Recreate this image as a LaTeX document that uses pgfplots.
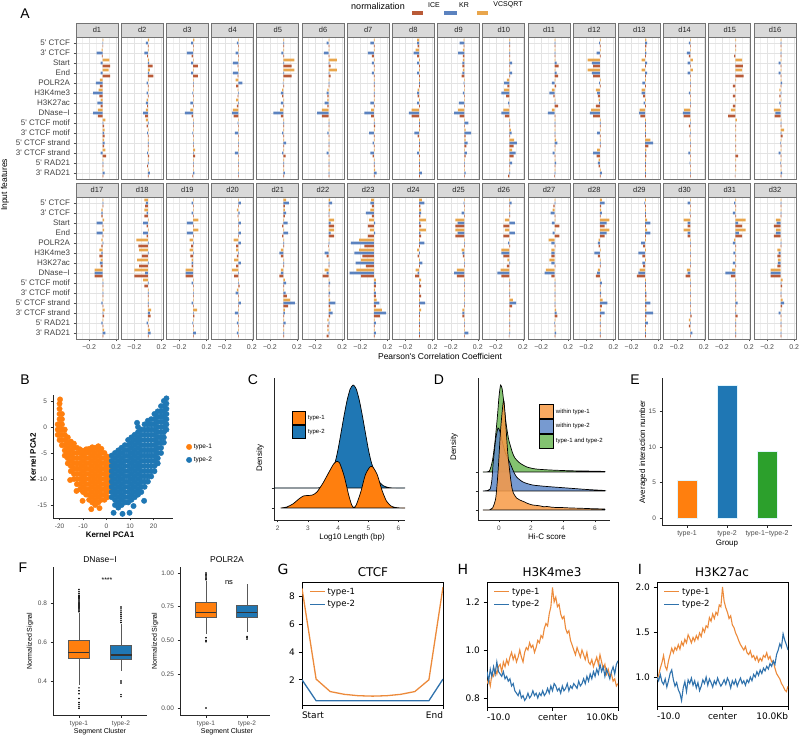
\documentclass[border=0pt]{standalone}
\usepackage{pgfplots}
\pgfplotsset{compat=1.18}
\usepackage{fontspec}
\setmainfont{Liberation Sans}
\newfontfamily\dejavu{DejaVu Sans}
\definecolor{cICE}{HTML}{B95A37}
\definecolor{cKR}{HTML}{5B82BF}
\definecolor{cVC}{HTML}{E9A64C}
\definecolor{tabO}{HTML}{FF7F0E}
\definecolor{tabB}{HTML}{1F77B4}
\definecolor{tabG}{HTML}{2CA02C}
\definecolor{dO}{HTML}{F79A45}
\definecolor{dB}{HTML}{5F88C8}
\definecolor{dG}{HTML}{6DB857}
\definecolor{lO}{HTML}{EC8A3A}
\definecolor{lB}{HTML}{2F72AC}
\newcommand\q{\textquotesingle}
\newcommand\fs[1]{\fontsize{#1}{#1}\selectfont}
\pgfplotsset{
 facetax/.style={scale only axis, width=42pt, height=142pt, xmin=-0.395, xmax=0.227, ymin=0.4, ymax=14.6,
  xtick={-0.2,0.2}, minor xtick={-0.3,-0.1,0,0.1}, ytick={1,...,14}, tick pos=left,
  grid=both, major grid style={gray!22, line width=0.5pt}, minor grid style={gray!12, line width=0.35pt},
  axis line style={black!55, line width=0.9pt},
  tick align=outside, major tick length=2.5pt, minor tick length=0pt,
  tick style={black!70, line width=0.5pt},
  xticklabel style={font=\fs{7}, text=black!70},
  yticklabel style={font=\fs{8}, text=black!75}},
 ylab/.style={yticklabels={3\q{} RAD21, 5\q{} RAD21, 3\q{} CTCF strand, 5\q{} CTCF strand, 3\q{} CTCF motif, 5\q{} CTCF motif, DNase−I, H3K27ac, H3K4me3, POLR2A, End, Start, 3\q{} CTCF, 5\q{} CTCF}},
 noylab/.style={yticklabels={}, ytick style={draw=none}},
 noxlab/.style={xticklabels={}, xtick style={draw=none}},
 xlab/.style={xticklabels={−0.2,0.2}},
 bars/.style={xbar, bar width=2.9pt, bar shift=0pt, draw=none},
 gg/.style={scale only axis, axis x line*=bottom, axis y line*=left,
  axis line style={black!85, line width=0.55pt}, tick align=outside, major tick length=2.5pt,
  tick style={black!85, line width=0.5pt}, ticklabel style={font=\fs{6.5}, text=black!70},
  /pgf/number format/assume math mode=true},
 mpl/.style={scale only axis, tick pos=left, axis line style={black, line width=0.6pt},
  tick align=outside, major tick length=3.5pt, tick style={black, line width=0.6pt},
  ticklabel style={font=\dejavu\fs{9}}, /pgf/number format/assume math mode=true,
  legend style={draw=none, fill=none, font=\dejavu\fs{8.5}, at={(0.05,0.97)}, anchor=north west, inner sep=0pt, row sep=1pt},
  legend cell align=left, legend image code/.code={\draw[##1, line width=1.3pt] (0pt,0pt) -- (15pt,0pt);}},
 whisk/.style={black!65, line width=0.8pt},
 boxs/.style={draw=black!65, line width=0.7pt},
 med/.style={black!80, line width=1.2pt},
 outl/.style={only marks, mark=*, mark size=0.55pt, black},
}
\newcommand\facet[5]{%
 \begin{axis}[facetax, at={(#1pt,#2pt)}, #4]
  \addplot[bars, fill=cICE] table[row sep=\\, x=i, y expr=13.7-\coordindex] {v k i\\ #5};
  \addplot[bars, fill=cKR] table[row sep=\\, x=k, y expr=14-\coordindex] {v k i\\ #5};
  \addplot[bars, fill=cVC] table[row sep=\\, x=v, y expr=14.3-\coordindex] {v k i\\ #5};
 \end{axis}
 \draw[black!55, line width=0.9pt, fill=gray!30] (#1pt,#2pt+142pt) rectangle (#1pt+42pt,#2pt+156pt);
 \node[font=\fs{7.5}, text=black!85] at (#1pt+21pt,#2pt+149pt) {#3};
}
\begin{document}
\begin{tikzpicture}
\useasboundingbox (0pt,0pt) rectangle (800pt,739pt);
% ---------------- Panel A ----------------
\node[font=\fs{14}] at (25pt,725pt) {A};
\node[font=\fs{8.5}, rotate=90] at (5pt,554pt) {Input features};
\node[font=\fs{8.5}] at (440pt,383pt) {Pearson\q{}s Correlation Coefficient};
\node[font=\fs{9}] at (378pt,733pt) {normalization};
\fill[cICE] (412pt,724pt) rectangle (423pt,728pt); \node[font=\fs{7}] at (434pt,734pt) {ICE};
\fill[cKR] (444pt,724pt) rectangle (457pt,728pt); \node[font=\fs{7}] at (464pt,734pt) {KR};
\fill[cVC] (477pt,724pt) rectangle (488pt,728pt); \node[font=\fs{7}] at (508pt,734pt) {VCSQRT};

\facet{76}{560}{d1}{ylab,noxlab}{0.01 0.005 0.005\\ -0.015 -0.09 -0.01\\ 0.1 -0.03 0.11\\ 0.09 -0.03 0.11\\ -0.04 -0.1 -0.04\\ -0.06 -0.14 -0.05\\ -0.03 -0.08 -0.03\\ -0.07 -0.14 -0.07\\ 0.04 0.01 0.02\\ 0.03 0.02 0.03\\ 0.02 0.03 0.02\\ 0.04 -0.03 0.05\\ 0.01 0.01 0.01\\ 0.01 0.03 0.01\\}
\facet{121.2}{560}{d2}{noylab,noxlab}{0.02 -0.03 0.01\\ 0.01 -0.05 -0.01\\ 0.02 0.02 0.07\\ 0.03 0.02 0.08\\ 0.01 -0.02 0.01\\ 0.01 -0.02 0.01\\ -0.02 -0.03 -0.01\\ -0.03 -0.07 -0.04\\ -0.03 0.01 -0.02\\ 0.01 -0.01 0.01\\ 0.01 0.01 0.01\\ 0.01 -0.01 0.02\\ 0.01 0.01 -0.01\\ 0.01 0.03 0.01\\}
\facet{166.4}{560}{d3}{noylab,noxlab}{0.02 -0.03 0.01\\ 0.01 -0.09 -0.02\\ 0.01 -0.03 0.07\\ 0.01 -0.03 0.07\\ 0.01 0.01 0.01\\ 0.01 -0.01 0.01\\ 0.01 -0.04 0.01\\ -0.04 -0.12 -0.02\\ 0.01 0.01 0.01\\ 0.01 -0.01 0.01\\ 0.01 0.01 0.01\\ 0.03 0.01 0.03\\ 0.01 0.01 0.01\\ 0.01 0.02 -0.01\\}
\facet{211.6}{560}{d4}{noylab,noxlab}{0.01 -0.02 0.01\\ 0.01 -0.04 0.01\\ 0.01 -0.08 -0.01\\ 0.01 -0.08 -0.01\\ -0.04 0.06 -0.03\\ -0.01 0.01 -0.01\\ -0.03 0.01 -0.02\\ -0.08 -0.09 -0.07\\ 0.01 -0.01 0.01\\ 0.01 -0.05 0.01\\ 0.01 0.01 0.01\\ 0.01 -0.05 0.01\\ 0.01 0.01 0.01\\ 0.01 0.01 0.01\\}
\facet{256.8}{560}{d5}{noylab,noxlab}{0.01 0.01 0.01\\ 0.01 -0.03 0.01\\ 0.16 0.01 0.12\\ 0.16 0.01 0.12\\ 0.01 -0.01 0.01\\ -0.02 -0.04 -0.02\\ 0.01 -0.04 0.01\\ -0.05 -0.15 -0.04\\ 0.01 0.01 0.01\\ 0.01 -0.02 0.01\\ 0.01 0.04 0.01\\ 0.01 -0.02 0.03\\ 0.01 0.01 0.01\\ 0.01 0.02 0.01\\}
\facet{302}{560}{d6}{noylab,noxlab}{0.01 -0.03 0.01\\ 0.01 -0.07 0.01\\ 0.12 0.01 0.03\\ 0.12 0.01 0.03\\ 0.01 0.01 0.01\\ -0.02 -0.03 -0.02\\ -0.02 -0.06 -0.02\\ -0.1 -0.17 -0.1\\ 0.01 0.01 0.01\\ 0.01 -0.02 0.01\\ 0.01 0.01 0.01\\ 0.01 -0.03 0.01\\ 0.01 0.01 0.01\\ 0.01 0.01 0.01\\}
\facet{347.2}{560}{d7}{noylab,noxlab}{0.01 -0.05 0.01\\ 0.01 -0.09 -0.03\\ 0.01 -0.03 0.01\\ 0.01 -0.03 0.01\\ 0.01 0.01 0.01\\ 0.01 0.01 0.01\\ 0.01 -0.05 0.01\\ -0.04 -0.14 -0.04\\ 0.01 0.01 0.02\\ 0.01 -0.07 0.01\\ 0.01 -0.02 0.01\\ 0.01 -0.05 -0.02\\ 0.01 0.01 0.01\\ 0.02 0.04 0.01\\}
\facet{392.4}{560}{d8}{noylab,noxlab}{-0.03 -0.03 -0.02\\ -0.05 -0.08 -0.03\\ 0.01 -0.03 0.01\\ 0.01 -0.03 0.01\\ 0.01 0.01 0.01\\ -0.02 -0.03 -0.02\\ 0.01 -0.03 0.01\\ -0.11 -0.15 -0.11\\ 0.01 0.01 0.01\\ 0.01 -0.07 -0.02\\ 0.01 0.01 0.01\\ 0.01 -0.03 0.01\\ 0.01 0.01 0.01\\ 0.01 0.04 0.01\\}
\facet{437.6}{560}{d9}{noylab,noxlab}{-0.01 -0.07 -0.01\\ -0.02 -0.09 -0.02\\ -0.02 -0.03 -0.03\\ -0.02 -0.03 -0.04\\ 0.01 -0.01 0.01\\ 0.01 -0.02 0.01\\ 0.01 -0.08 0.01\\ -0.09 -0.15 -0.07\\ 0.01 0.06 0.01\\ 0.02 0.1 0.02\\ 0.02 0.05 0.03\\ 0.01 0.04 0.02\\ 0.01 0.01 0.01\\ 0.01 0.02 0.01\\}
\facet{482.8}{560}{d10}{noylab,noxlab}{0.01 0.01 0.01\\ 0.01 0.01 0.01\\ 0.01 0.04 0.01\\ 0.01 0.04 0.01\\ -0.04 -0.08 -0.03\\ -0.08 -0.12 -0.05\\ -0.01 -0.02 -0.01\\ -0.09 -0.12 -0.07\\ 0.01 0.01 0.01\\ 0.02 0.03 0.01\\ 0.07 0.11 0.06\\ 0.04 0.09 0.06\\ 0.01 0.04 0.01\\ 0.01 0.01 -0.02\\}
\facet{528}{560}{d11}{noylab,noxlab}{0.01 0.01 0.01\\ 0.01 0.01 0.01\\ 0.01 0.03 0.06\\ 0.01 0.03 0.05\\ 0.01 -0.04 0.02\\ -0.04 -0.08 -0.02\\ 0.01 0.01 0.05\\ -0.04 -0.1 0.01\\ 0.01 0.01 0.01\\ 0.01 0.01 0.01\\ 0.02 0.04 0.01\\ 0.01 -0.03 0.01\\ 0.01 0.02 0.01\\ 0.01 0.01 -0.01\\}
\facet{573.2}{560}{d12}{noylab,noxlab}{0.01 -0.01 0.01\\ 0.01 -0.05 0.01\\ -0.18 -0.12 -0.1\\ -0.18 -0.12 -0.1\\ 0.01 -0.01 0.01\\ -0.06 -0.04 -0.03\\ -0.02 -0.01 -0.06\\ -0.13 -0.15 -0.1\\ 0.01 0.01 0.01\\ 0.01 -0.04 0.01\\ 0.01 0.01 0.01\\ -0.04 -0.1 -0.05\\ -0.02 -0.03 -0.02\\ 0.01 0.03 0.01\\}
\facet{618.4}{560}{d13}{noylab,noxlab}{0.02 0.03 0.02\\ 0.01 0.02 0.01\\ -0.05 0.03 0.01\\ -0.05 0.03 0.01\\ 0.01 -0.04 0.01\\ -0.05 -0.05 -0.03\\ 0.01 -0.02 0.01\\ -0.08 -0.09 -0.07\\ 0.01 0.01 0.01\\ 0.01 0.01 0.01\\ 0.08 0.12 0.05\\ 0.02 0.01 0.02\\ 0.01 0.01 0.01\\ 0.01 0.01 0.01\\}
\facet{663.6}{560}{d14}{noylab,noxlab}{0.01 -0.02 0.01\\ 0.01 -0.05 -0.02\\ 0.04 -0.04 0.01\\ 0.04 -0.04 0.01\\ 0.01 0.01 0.01\\ 0.01 -0.02 0.01\\ 0.01 0.01 0.01\\ -0.09 -0.11 -0.1\\ 0.01 0.01 -0.02\\ 0.01 0.01 -0.01\\ 0.01 0.01 0.01\\ 0.01 -0.03 0.01\\ 0.01 -0.01 0.01\\ 0.01 0.01 0.01\\}
\facet{708.8}{560}{d15}{noylab,noxlab}{0.01 0 0.01\\ 0.01 0 -0.02\\ 0.1 0 0.11\\ 0.1 0 0.12\\ 0.01 0 -0.04\\ 0.01 0 -0.04\\ 0.01 0 -0.04\\ -0.07 0 -0.11\\ 0.02 0 0.01\\ 0.01 0 0.01\\ 0.01 0 0.01\\ 0.01 0 0.04\\ 0.01 0 0.01\\ 0.01 0 -0.01\\}
\facet{754}{560}{d16}{noylab,noxlab}{0.01 0.01 0.01\\ 0.01 0.01 0.01\\ 0.01 -0.03 0.01\\ 0.01 -0.03 0.01\\ 0.01 0.02 0.01\\ -0.02 0.01 -0.02\\ 0.01 -0.02 -0.01\\ -0.1 -0.08 -0.09\\ 0.01 0.01 0.01\\ 0.05 0.01 0.03\\ 0.01 -0.01 0.01\\ 0.01 -0.03 0.01\\ 0.01 -0.01 0.01\\ 0.01 0.02 0.01\\}

\facet{76}{400}{d17}{ylab,xlab}{0.01 0.01 0.01\\ -0.02 -0.02 -0.02\\ 0.02 -0.09 0.01\\ 0.02 -0.09 0.01\\ -0.02 0.01 -0.02\\ -0.05 -0.02 -0.05\\ -0.03 -0.04 -0.03\\ -0.12 -0.12 -0.12\\ 0.01 0.01 0.01\\ 0.01 0.01 0.01\\ 0.01 -0.02 0.01\\ 0.03 0.01 0.02\\ 0.01 -0.02 0.01\\ 0.02 0.04 0.01\\}
\facet{121.2}{400}{d18}{noylab,xlab}{-0.05 -0.03 -0.04\\ -0.05 -0.02 -0.05\\ 0.01 -0.07 -0.02\\ 0.01 -0.07 -0.02\\ -0.17 0.01 -0.14\\ -0.13 0.01 -0.09\\ -0.16 0.01 -0.13\\ -0.2 -0.04 -0.2\\ -0.07 0.01 -0.05\\ 0.01 0.01 0.01\\ 0.01 0.01 0.01\\ 0.05 0.03 0.04\\ 0.01 -0.02 0.01\\ 0.03 0.04 0.01\\}
\facet{166.4}{400}{d19}{noylab,xlab}{0.01 -0.02 0.01\\ 0.01 -0.02 0.01\\ 0.08 -0.09 0.01\\ 0.08 -0.09 0.01\\ -0.05 0.01 -0.03\\ -0.05 0.01 -0.04\\ -0.02 -0.02 -0.02\\ -0.11 -0.11 -0.11\\ 0.01 -0.02 0.01\\ 0.01 0.01 0.01\\ 0.01 -0.02 0.01\\ 0.06 0.01 0.02\\ 0.01 -0.01 0.01\\ 0.01 0.04 0.01\\}
\facet{211.6}{400}{d20}{noylab,xlab}{0.01 0.04 0.01\\ -0.02 0.02 -0.01\\ 0.01 0.04 0.01\\ 0.01 0.04 0.01\\ -0.07 0.04 -0.03\\ -0.03 0.01 -0.02\\ -0.06 0.04 -0.03\\ -0.09 0.01 -0.06\\ 0.01 0.01 0.02\\ -0.02 -0.04 0.01\\ 0.01 0.04 0.01\\ 0.01 -0.05 0.01\\ 0.01 -0.02 0.01\\ 0.01 -0.02 0.01\\}
\facet{256.8}{400}{d21}{noylab,xlab}{0.04 0.08 0.02\\ 0.02 0.04 0.02\\ 0.01 0.06 -0.02\\ 0.01 0.07 -0.02\\ 0.01 0.01 0.01\\ -0.04 -0.06 -0.04\\ 0.01 0.01 0.01\\ -0.04 -0.04 -0.06\\ 0.02 0.04 0.01\\ 0.01 0.03 0.05\\ 0.1 0.17 0.07\\ 0.02 0.02 0.01\\ 0.01 0.03 0.01\\ 0.01 0.01 0.01\\}
\facet{302}{400}{d22}{noylab,xlab}{0.02 0.05 0.01\\ 0.02 0.01 0.01\\ 0.08 0.03 0.08\\ 0.08 0.03 0.08\\ 0.01 0.01 -0.01\\ 0.01 -0.06 -0.03\\ 0.01 0.01 0.01\\ -0.06 -0.03 -0.09\\ 0.01 0.02 0.01\\ 0.01 0.02 0.01\\ 0.02 0.1 0.02\\ 0.03 0.06 0.02\\ -0.02 0.01 -0.02\\ -0.02 0.01 -0.03\\}
\facet{347.2}{400}{d23}{noylab,xlab}{-0.04 -0.05 -0.03\\ -0.05 -0.12 -0.03\\ -0.07 0.02 -0.09\\ -0.06 0.02 -0.09\\ -0.22 -0.34 -0.14\\ -0.22 -0.29 -0.17\\ -0.19 -0.27 -0.12\\ -0.26 -0.36 -0.19\\ 0.03 0.03 0.03\\ 0.02 0.03 0.03\\ 0.04 0.08 0.03\\ 0.12 0.18 0.09\\ 0.01 0.03 0.01\\ 0.01 0.03 0.01\\}
\facet{392.4}{400}{d24}{noylab,xlab}{0.04 0.08 0.02\\ 0.03 0.03 0.02\\ 0.1 0.02 0.03\\ 0.1 0.02 0.03\\ 0.01 0.08 0.01\\ -0.03 0.01 -0.02\\ 0.01 0.05 0.01\\ -0.05 -0.02 -0.06\\ 0.03 0.01 0.03\\ 0.01 0.01 0.03\\ 0.01 0.09 0.01\\ 0.03 0.01 0.01\\ 0.01 0.01 0.01\\ 0.01 0.01 0.01\\}
\facet{437.6}{400}{d25}{noylab,xlab}{0.01 -0.01 0.01\\ 0.01 -0.04 0.01\\ -0.13 -0.1 -0.13\\ -0.13 -0.1 -0.13\\ 0.01 0.01 0.01\\ -0.04 -0.03 -0.02\\ 0.01 0.01 0.01\\ -0.11 -0.15 -0.11\\ 0.01 0.01 0.01\\ 0.01 0.01 0.01\\ 0.01 0.01 0.01\\ -0.03 -0.03 -0.03\\ 0.01 0.01 0.01\\ 0.01 0.06 0.01\\}
\facet{482.8}{400}{d26}{noylab,xlab}{0.01 0.03 0.01\\ 0.01 0.01 0.01\\ -0.07 0.08 -0.09\\ -0.07 0.08 -0.09\\ 0.01 -0.02 0.01\\ -0.12 -0.12 -0.09\\ -0.03 0.01 -0.04\\ -0.13 -0.18 -0.12\\ 0.01 0.01 0.01\\ 0.01 0.01 0.01\\ 0.05 0.1 0.04\\ 0.01 0.01 0.01\\ 0.01 0.01 0.01\\ 0.01 0.01 -0.01\\}
\facet{528}{400}{d27}{noylab,xlab}{0.01 0.01 -0.02\\ -0.03 -0.06 0.01\\ 0.01 -0.04 0.07\\ 0.01 -0.03 0.07\\ -0.09 -0.05 0.01\\ -0.05 -0.05 -0.05\\ -0.08 -0.05 0.01\\ -0.13 -0.15 -0.05\\ 0.01 0.01 0.01\\ 0.01 0.01 0.01\\ 0.01 0.01 0.01\\ 0.02 0.03 0.04\\ 0.01 -0.01 0.01\\ 0.01 0.02 0.01\\}
\facet{573.2}{400}{d28}{noylab,xlab}{0.03 0.07 0.02\\ 0.02 0.03 0.01\\ 0.14 0.1 0.07\\ 0.14 0.1 0.07\\ -0.02 -0.03 -0.02\\ 0.01 -0.08 -0.03\\ 0.01 0.01 0.01\\ -0.03 -0.04 -0.06\\ 0.01 0.03 0.01\\ 0.01 0.02 0.01\\ 0.04 0.11 0.03\\ 0.02 0.07 0.02\\ 0.01 0.01 0.01\\ 0.01 0.01 0.01\\}
\facet{618.4}{400}{d29}{noylab,xlab}{0.01 -0.01 0.01\\ 0.01 0.01 0.01\\ 0.03 0.08 0.01\\ 0.03 0.08 0.01\\ 0.01 -0.06 -0.03\\ 0.01 -0.1 -0.04\\ 0.01 -0.04 -0.03\\ -0.08 -0.1 -0.12\\ 0.01 0.01 0.01\\ 0.01 0.02 0.02\\ 0.02 0.08 0.02\\ 0.02 0.12 0.02\\ 0.01 0.04 0.01\\ 0.01 0.01 0.01\\}
\facet{663.6}{400}{d30}{noylab,xlab}{0.01 -0.04 0.01\\ 0.01 -0.01 0.01\\ -0.1 -0.04 -0.04\\ -0.1 -0.04 -0.04\\ 0.01 0.01 0.01\\ 0.01 0.01 0.01\\ 0.01 0.01 0.01\\ -0.05 -0.04 -0.07\\ 0.01 0.01 0.01\\ 0.01 0.01 0.01\\ 0.01 0.01 0.01\\ 0.01 0.01 0.02\\ -0.02 0.01 -0.02\\ 0.01 0.03 0.01\\}
\facet{708.8}{400}{d31}{noylab,xlab}{0.01 -0.02 0.01\\ 0.01 -0.04 0.01\\ 0.15 0.04 0.1\\ 0.15 0.05 0.1\\ -0.02 -0.04 0.01\\ 0.01 -0.03 0.01\\ 0.01 -0.04 0.01\\ -0.05 -0.15 -0.07\\ 0.01 0.01 0.01\\ 0.01 0.01 0.01\\ 0.01 0.03 0.01\\ 0.01 0.01 0.03\\ 0.01 0.01 0.01\\ 0.01 0.01 0.01\\}
\facet{754}{400}{d32}{noylab,xlab}{0.01 0.01 0.01\\ 0.01 0.01 0.01\\ -0.07 -0.06 -0.1\\ -0.07 -0.07 -0.1\\ 0.01 0.01 0.01\\ -0.05 -0.03 -0.05\\ -0.04 -0.04 -0.05\\ -0.15 -0.15 -0.15\\ 0.03 0.01 0.02\\ 0.01 0.01 0.01\\ 0.03 0.05 0.02\\ 0.01 -0.03 0.01\\ 0.01 0.01 0.01\\ 0.01 0.01 0.01\\}

% ---------------- Panel B ----------------
\node[font=\fs{14}] at (25pt,359pt) {B};
\begin{axis}[gg, at={(53pt,221pt)}, width=120pt, height=123pt, xmin=-22.8, xmax=28.3, ymin=-17.5, ymax=6.15,
 xtick={-20,-10,0,10,20}, ytick={-15,-10,-5,0,5},
 legend style={at={(1.11,0.62)}, anchor=north west, draw=none, fill=none, font=\fs{6.5}, row sep=3pt, inner sep=0pt},
 legend cell align=left]
\addplot[only marks, mark=*, mark size=2.7pt, tabO, mark options={draw=none, fill=tabO}] coordinates {
(-20.8,-1.5)(-20.8,-0.5)(-20.8,0.5)
(-20,-2.5)(-20,-1.5)(-20,-0.5)(-20,0.5)(-20,1.5)(-20,2.5)(-20,3.5)(-20,4.5)(-19.8,5.3)
(-19,-3.5)(-19,-2.5)(-19,-1.5)(-19,-0.5)(-19,0.5)(-19,1.5)(-19,2.5)
(-17.8,-5.5)(-17.8,-4.5)(-17.8,-3.5)(-17.8,-2.5)(-17.8,-1.5)(-17.8,-0.5)
(-16.5,-7)(-16.5,-6)(-16.5,-5)(-16.5,-4)(-16.5,-3)(-16.5,-2)
(-15.2,-8.5)(-15.2,-7.5)(-15.2,-6.5)(-15.2,-5.5)(-15.2,-4.5)(-15.2,-3.5)(-15.2,-2.8)
(-13.9,-10)(-13.9,-9)(-13.9,-8)(-13.9,-7)(-13.9,-6)(-13.9,-5)(-13.9,-4)(-13.9,-3.2)
(-12.6,-11)(-12.6,-10)(-12.6,-9)(-12.6,-8)(-12.6,-7)(-12.6,-6)(-12.6,-5)(-12.6,-4)
(-11.3,-12)(-11.3,-11)(-11.3,-10)(-11.3,-9)(-11.3,-8)(-11.3,-7)(-11.3,-6)(-11.3,-5)(-11.3,-4.3)
(-10,-12.5)(-10,-11.5)(-10,-10.5)(-10,-9.5)(-10,-8.5)(-10,-7.5)(-10,-6.5)(-10,-5.5)(-10,-4.6)
(-8.7,-13)(-8.7,-12)(-8.7,-11)(-8.7,-10)(-8.7,-9)(-8.7,-8)(-8.7,-7)(-8.7,-6)(-8.7,-5)(-8.7,-4.3)
(-7.4,-14)(-7.4,-13)(-7.4,-12)(-7.4,-11)(-7.4,-10)(-7.4,-9)(-7.4,-8)(-7.4,-7)(-7.4,-6)(-7.4,-5)(-7.4,-4.2)
(-6.1,-14.5)(-6.1,-13.5)(-6.1,-12.5)(-6.1,-11.5)(-6.1,-10.5)(-6.1,-9.5)(-6.1,-8.5)(-6.1,-7.5)(-6.1,-6.5)(-6.1,-5.5)(-6.1,-4.5)(-6.1,-3.9)
(-4.8,-15)(-4.8,-14)(-4.8,-13)(-4.8,-12)(-4.8,-11)(-4.8,-10)(-4.8,-9)(-4.8,-8)(-4.8,-7)(-4.8,-6)(-4.8,-5)(-4.8,-4)
(-3.5,-14.5)(-3.5,-13.5)(-3.5,-12.5)(-3.5,-11.5)(-3.5,-10.5)(-3.5,-9.5)(-3.5,-8.5)(-3.5,-7.5)(-3.5,-6.5)(-3.5,-5.5)(-3.5,-4.5)(-3.5,-3.7)
(-2.2,-14)(-2.2,-13)(-2.2,-12)(-2.2,-11)(-2.2,-10)(-2.2,-9)(-2.2,-8)(-2.2,-7)(-2.2,-6)(-2.2,-5)(-2.2,-4.2)
(-0.9,-14)(-0.9,-13)(-0.9,-12)(-0.9,-11)(-0.9,-10)(-0.9,-9)(-0.9,-8)(-0.9,-7)(-0.9,-6)(-0.9,-5)
(0.4,-13.5)(0.4,-12.5)(0.4,-11.5)(0.4,-10.5)(0.4,-9.5)(0.4,-8.5)(0.4,-7.5)(0.4,-6.5)(0.4,-5.7)
(1.5,-12)(1.5,-11)(1.5,-10)(1.5,-9)(1.5,-8)(1.5,-7)
(-6.5,-15.8)(-10.2,-14.2)(-12.8,-12.3)(-3,-15.6)(-15.5,-10.2)};
\addlegendentry{type-1}
\addplot[only marks, mark=*, mark size=2.7pt, tabB, mark options={draw=none, fill=tabB}] coordinates {
(2.2,-13.5)(2.2,-12.5)(2.2,-11.5)(2.2,-10.5)(2.2,-9.5)(2.2,-8.5)(2.2,-7.5)(2.2,-6.5)(2.2,-5.5)
(3.6,-15)(3.6,-14)(3.6,-13)(3.6,-12)(3.6,-11)(3.6,-10)(3.6,-9)(3.6,-8)(3.6,-7)(3.6,-6)(3.6,-5)
(5,-15.5)(5,-14.5)(5,-13.5)(5,-12.5)(5,-11.5)(5,-10.5)(5,-9.5)(5,-8.5)(5,-7.5)(5,-6.5)(5,-5.5)(5,-4.5)
(6.4,-15)(6.4,-14)(6.4,-13)(6.4,-12)(6.4,-11)(6.4,-10)(6.4,-9)(6.4,-8)(6.4,-7)(6.4,-6)(6.4,-5)(6.4,-4)
(7.8,-14.5)(7.8,-13.5)(7.8,-12.5)(7.8,-11.5)(7.8,-10.5)(7.8,-9.5)(7.8,-8.5)(7.8,-7.5)(7.8,-6.5)(7.8,-5.5)(7.8,-4.5)(7.8,-3.5)
(9.2,-14.5)(9.2,-13.5)(9.2,-12.5)(9.2,-11.5)(9.2,-10.5)(9.2,-9.5)(9.2,-8.5)(9.2,-7.5)(9.2,-6.5)(9.2,-5.5)(9.2,-4.5)(9.2,-3.5)(9.2,-2.5)
(10.6,-14)(10.6,-13)(10.6,-12)(10.6,-11)(10.6,-10)(10.6,-9)(10.6,-8)(10.6,-7)(10.6,-6)(10.6,-5)(10.6,-4)(10.6,-3)(10.6,-2)
(12,-13.5)(12,-12.5)(12,-11.5)(12,-10.5)(12,-9.5)(12,-8.5)(12,-7.5)(12,-6.5)(12,-5.5)(12,-4.5)(12,-3.5)(12,-2.5)(12,-1.5)
(13.4,-13)(13.4,-12)(13.4,-11)(13.4,-10)(13.4,-9)(13.4,-8)(13.4,-7)(13.4,-6)(13.4,-5)(13.4,-4)(13.4,-3)(13.4,-2)(13.4,-1)(13.4,0)
(14.8,-12.5)(14.8,-11.5)(14.8,-10.5)(14.8,-9.5)(14.8,-8.5)(14.8,-7.5)(14.8,-6.5)(14.8,-5.5)(14.8,-4.5)(14.8,-3.5)(14.8,-2.5)(14.8,-1.5)(14.8,-0.5)
(16.2,-11.5)(16.2,-10.5)(16.2,-9.5)(16.2,-8.5)(16.2,-7.5)(16.2,-6.5)(16.2,-5.5)(16.2,-4.5)(16.2,-3.5)(16.2,-2.5)(16.2,-1.5)(16.2,-0.5)(16.2,0.5)
(17.6,-10.5)(17.6,-9.5)(17.6,-8.5)(17.6,-7.5)(17.6,-6.5)(17.6,-5.5)(17.6,-4.5)(17.6,-3.5)(17.6,-2.5)(17.6,-1.5)(17.6,-0.5)(17.6,0.5)(17.6,1.2)
(19,-9.5)(19,-8.5)(19,-7.5)(19,-6.5)(19,-5.5)(19,-4.5)(19,-3.5)(19,-2.5)(19,-1.5)(19,-0.5)(19,0.5)(19,1.5)
(20.4,-8.5)(20.4,-7.5)(20.4,-6.5)(20.4,-5.5)(20.4,-4.5)(20.4,-3.5)(20.4,-2.5)(20.4,-1.5)(20.4,-0.5)(20.4,0.5)(20.4,1.5)(20.4,2.5)
(21.8,-7)(21.8,-6)(21.8,-5)(21.8,-4)(21.8,-3)(21.8,-2)(21.8,-1)(21.8,0)(21.8,1)(21.8,2)(21.8,3)
(23.2,-5)(23.2,-4)(23.2,-3)(23.2,-2)(23.2,-1)(23.2,0)(23.2,1)(23.2,2)(23.2,3)(23.2,4)
(24.4,-3)(24.4,-2)(24.4,-1)(24.4,0)(24.4,1)(24.4,2)(24.4,3)(24.4,4)(24.4,5)
(25.5,-0.5)(25.5,0.5)(25.5,1.5)(25.5,2.5)(25.5,3.5)(25.5,4.5)(25.5,5.5)
(3,-16.5)(6.8,-16.7)(9.8,-16.5)(11.5,-15.2)(16,-14.2)(13,0.8)};
\addlegendentry{type-2}
\end{axis}
\node[font=\bfseries\fs{8}] at (110pt,204pt) {Kernel PCA1};
\node[font=\bfseries\fs{8}, rotate=90] at (33pt,282pt) {Kernel PCA2};

% ---------------- Panel C ----------------
\node[font=\fs{14}] at (253pt,359pt) {C};
\begin{axis}[gg, at={(274pt,219pt)}, width=131pt, height=142pt, xmin=1.877, xmax=6.215, ymin=0, ymax=142,
 xtick={2,3,4,5,6}, ytick={12,32}, yticklabels={}, reverse legend,
 legend style={at={(0.137,0.768)}, anchor=north west, draw=none, fill=none, font=\fs{6}, row sep=0pt, inner sep=0pt},
 legend cell align=left, legend image code/.code={\draw[#1, line width=0.8pt] (0pt,-6.5pt) rectangle (13pt,6.5pt);}]
\addplot[fill=tabB, draw=black, line width=0.7pt, smooth, tension=0.4] coordinates {(1.877,32)(3.3,32)(3.5,34.2)(3.7,40.7)(3.9,57.7)(4.0,71)(4.1,87.7)(4.2,104.8)(4.3,120)(4.4,131)(4.5,135)(4.6,131)(4.7,120)(4.8,104.8)(4.9,87.7)(5.0,71)(5.1,57.7)(5.3,40.7)(5.5,34.2)(5.7,32.3)(5.9,32)(6.215,32)} -- cycle;
\addlegendentry{type-2}
\addplot[fill=tabO, draw=black, line width=0.7pt, smooth, tension=0.4] coordinates {(2.1,12)(2.3,13)(2.5,16)(2.7,21)(2.85,24)(3.0,24.5)(3.15,25)(3.3,28)(3.5,37)(3.7,48)(3.85,56)(3.95,58.5)(4.05,57)(4.2,44)(4.35,25)(4.45,15)(4.52,12.5)(4.6,15)(4.75,28)(4.9,45)(5.05,53)(5.15,53)(5.3,45)(5.45,30)(5.6,19)(5.75,14)(5.9,12.5)(6.1,12)(6.215,12)} -- cycle;
\addlegendentry{type-1}
\end{axis}
\node[font=\fs{8}, rotate=90] at (260pt,281pt) {Density};
\node[font=\fs{8}] at (352pt,202pt) {Log10 Length (bp)};

% ---------------- Panel D ----------------
\node[font=\fs{14}] at (439pt,359pt) {D};
\begin{axis}[gg, at={(478pt,219pt)}, width=132pt, height=142pt, xmin=-1.31, xmax=6.94, ymin=0, ymax=142,
 xtick={0,2,4,6}, ytick={10,29,48}, yticklabels={}, reverse legend,
 legend style={at={(0.462,0.817)}, anchor=north west, draw=none, fill=none, font=\fs{6}, row sep=0pt, inner sep=0pt},
 legend cell align=left, legend image code/.code={\draw[#1, line width=0.8pt] (0pt,-7pt) rectangle (14pt,7pt);}]
\addplot[fill=dG, fill opacity=0.85, draw=black, line width=0.7pt, smooth, tension=0.4] coordinates {(-1.0,48)(-0.6,49)(-0.4,60)(-0.25,78)(-0.1,103)(0.0,123)(0.1,135)(0.2,131)(0.3,118)(0.45,96)(0.6,81)(0.7,75)(0.85,67)(1.0,62)(1.3,57)(1.75,53)(2.3,51)(3.2,50)(4.5,49.2)(6.0,48.8)(6.6,48.5)(6.6,48)} -- cycle;
\addlegendentry{type-1 and type-2}
\addplot[fill=dB, fill opacity=0.85, draw=black, line width=0.7pt, smooth, tension=0.4] coordinates {(-1.0,29)(-0.7,29.5)(-0.55,31)(-0.45,39)(-0.35,59)(-0.2,81)(-0.06,92)(0.05,89)(0.2,79)(0.4,67)(0.69,57)(0.9,49)(1.1,43)(1.5,38)(2.1,35)(3.0,33.5)(4.25,32)(5.5,30.5)(6.6,29.5)(6.6,29)} -- cycle;
\addlegendentry{within type-2}
\addplot[fill=dO, fill opacity=0.85, draw=black, line width=0.7pt, smooth, tension=0.4] coordinates {(-1.0,10)(-0.6,10)(-0.4,12)(-0.2,22)(-0.05,50)(0.1,90)(0.25,116)(0.32,118)(0.45,90)(0.55,67)(0.7,45)(0.8,33)(0.9,27)(1.1,22)(1.3,20)(1.6,18)(1.8,16.5)(2.1,15)(2.4,14.5)(2.6,14)(2.8,13.2)(3.0,13.5)(3.3,12.8)(3.6,12.5)(4.0,12.4)(4.5,12)(5.0,11.8)(5.5,11.5)(6.0,11.2)(6.6,11)(6.6,10)} -- cycle;
\addlegendentry{within type-1}
\end{axis}
\node[font=\fs{8}, rotate=90] at (454pt,292pt) {Density};
\node[font=\fs{8}] at (547pt,202pt) {Hi-C score};

% ---------------- Panel E ----------------
\node[font=\fs{14}] at (635pt,359pt) {E};
\begin{axis}[gg, at={(662pt,214pt)}, width=130pt, height=147pt, xmin=-0.625, xmax=2.625, ymin=-0.99, ymax=19.7,
 xtick={0,1,2}, xticklabels={type-1,type-2,type-1−type-2}, ytick={0,5,10,15}, xticklabel style={font=\fs{7}}]
\addplot[ybar, bar width=20pt, bar shift=0pt, fill=tabO, draw=cyan!12, line width=0.6pt] coordinates {(0,5.35)};
\addplot[ybar, bar width=20pt, bar shift=0pt, fill=tabB, draw=cyan!12, line width=0.6pt] coordinates {(1,18.7)};
\addplot[ybar, bar width=20pt, bar shift=0pt, fill=tabG, draw=cyan!12, line width=0.6pt] coordinates {(2,9.4)};
\end{axis}
\node[font=\fs{8}, rotate=90] at (643pt,287pt) {Averaged interaction number};
\node[font=\fs{8}] at (727pt,195pt) {Group};

% ---------------- Panel F ----------------
\node[font=\fs{14}] at (23pt,171pt) {F};
\begin{axis}[gg, at={(53pt,24pt)}, width=94pt, height=148pt, xmin=0.381, xmax=2.619, ymin=0.2256, ymax=0.985,
 xtick={1,2}, xticklabels={type-1,type-2}, ytick={0.4,0.6,0.8}]
% type-1
\addplot[whisk] coordinates {(1,0.61)(1,0.75)};
\addplot[whisk] coordinates {(1,0.517)(1,0.38)};
\addplot[boxs, fill=tabO] coordinates {(0.75,0.517)(1.25,0.517)(1.25,0.61)(0.75,0.61)} -- cycle;
\addplot[med] coordinates {(0.75,0.548)(1.25,0.548)};
\addplot[outl] coordinates {(1,0.755)(1,0.76)(1,0.765)(1,0.77)(1,0.775)(1,0.78)(1,0.785)(1,0.79)(1,0.795)(1,0.8)(1,0.805)(1,0.81)(1,0.815)(1,0.82)(1,0.825)(1,0.83)(1,0.835)(1,0.84)(1,0.85)(1,0.86)(1,0.87)(1,0.365)(1,0.35)(1,0.335)(1,0.31)(1,0.29)(1,0.28)(1,0.27)(1,0.26)};
% type-2
\addplot[whisk] coordinates {(2,0.585)(2,0.69)};
\addplot[whisk] coordinates {(2,0.512)(2,0.45)};
\addplot[boxs, fill=tabB] coordinates {(1.75,0.512)(2.25,0.512)(2.25,0.585)(1.75,0.585)} -- cycle;
\addplot[med] coordinates {(1.75,0.533)(2.25,0.533)};
\addplot[outl] coordinates {(2,0.7)(2,0.71)(2,0.72)(2,0.73)(2,0.74)(2,0.75)(2,0.76)(2,0.77)(2,0.78)(2,0.4)(2,0.39)(2,0.33)(2,0.32)};
\end{axis}
\begin{axis}[gg, at={(180pt,24pt)}, width=90pt, height=148pt, xmin=0.366, xmax=2.56, ymin=-0.052, ymax=1.044,
 xtick={1,2}, xticklabels={type-1,type-2}, ytick={0,0.25,0.5,0.75,1},
 yticklabel={\pgfmathprintnumber[fixed,fixed zerofill,precision=2]{\tick}}]
% type-1
\addplot[whisk] coordinates {(1,0.78)(1,0.94)};
\addplot[whisk] coordinates {(1,0.672)(1,0.55)};
\addplot[boxs, fill=tabO] coordinates {(0.75,0.672)(1.25,0.672)(1.25,0.78)(0.75,0.78)} -- cycle;
\addplot[med] coordinates {(0.75,0.705)(1.25,0.705)};
\addplot[outl] coordinates {(1,0.95)(1,0.96)(1,0.97)(1,0.98)(1,0.99)(1,1.0)(1,0.52)(1,0.5)(1,0.49)(1,0.0)};
% type-2
\addplot[whisk] coordinates {(2,0.76)(2,0.92)};
\addplot[whisk] coordinates {(2,0.672)(2,0.56)};
\addplot[boxs, fill=tabB] coordinates {(1.75,0.672)(2.25,0.672)(2.25,0.76)(1.75,0.76)} -- cycle;
\addplot[med] coordinates {(1.75,0.705)(2.25,0.705)};
\addplot[outl] coordinates {(2,0.53)(2,0.52)(2,0.51)};
\end{axis}
\node[font=\fs{8.5}] at (100pt,179pt) {DNase−I};
\node[font=\fs{8.5}] at (227pt,179pt) {POLR2A};
\node[font=\fs{7}] at (107pt,159pt) {****};
\node[font=\fs{7.5}] at (229pt,156pt) {ns};
\node[font=\fs{7}, rotate=90] at (30pt,98pt) {Normalized Signal};
\node[font=\fs{7}, rotate=90] at (155pt,98pt) {Normalized Signal};
\node[font=\fs{7}] at (100pt,7pt) {Segment Cluster};
\node[font=\fs{7}] at (227pt,7pt) {Segment Cluster};

% ---------------- Panel G ----------------
\node[font=\dejavu\fs{14}] at (283pt,170pt) {G};
\node[font=\dejavu\fs{12}] at (373pt,167pt) {CTCF};
\begin{axis}[mpl, at={(302pt,34pt)}, width=141pt, height=123pt, xmin=0, xmax=10, ymin=0.18, ymax=9.06,
 xtick={0,10}, xticklabels={\rlap{Start},\llap{End}}, ytick={2,4,6,8}]
\addplot[lO, line width=1.3pt] coordinates {(0,8.6)(1,2.05)(2,1.15)(3,0.95)(4,0.85)(5,0.82)(6,0.85)(7,0.95)(8,1.15)(9,2.0)(10,8.7)};
\addlegendentry{type-1}
\addplot[lB, line width=1.3pt] coordinates {(0,2.0)(1,0.49)(2,0.49)(3,0.49)(4,0.49)(5,0.49)(6,0.49)(7,0.49)(8,0.49)(9,0.49)(10,2.05)};
\addlegendentry{type-2}
\end{axis}

% ---------------- Panel H ----------------
\node[font=\dejavu\fs{14}] at (463pt,170pt) {H};
\node[font=\dejavu\fs{12}] at (552pt,167pt) {H3K4me3};
\begin{axis}[mpl, at={(487pt,32pt)}, width=131pt, height=125pt, xmin=-10, xmax=10, ymin=0.7625, ymax=1.283,
 xtick={-10,0,10}, xticklabels={\rlap{-10.0},center,\llap{10.0Kb}}, ytick={0.8,1.0,1.2},
 yticklabel={\pgfmathprintnumber[fixed,fixed zerofill,precision=1]{\tick}}]
\addplot[lO, line width=1.1pt] table[row sep=\\, x expr=-10+0.25*\coordindex, y=y] {y\\ 0.86\\ 0.88\\ 0.85\\ 0.90\\ 0.89\\ 0.92\\ 0.90\\ 0.93\\ 0.94\\ 0.91\\ 0.95\\ 0.93\\ 0.96\\ 0.94\\ 0.97\\ 0.99\\ 0.96\\ 0.98\\ 0.95\\ 0.97\\ 1.00\\ 0.97\\ 0.95\\ 0.99\\ 1.01\\ 1.00\\ 1.03\\ 1.01\\ 1.02\\ 0.99\\ 1.01\\ 1.04\\ 1.03\\ 1.06\\ 1.05\\ 1.09\\ 1.11\\ 1.10\\ 1.15\\ 1.18\\ 1.26\\ 1.20\\ 1.22\\ 1.18\\ 1.19\\ 1.15\\ 1.13\\ 1.14\\ 1.09\\ 1.07\\ 1.08\\ 1.04\\ 1.02\\ 1.00\\ 0.98\\ 1.01\\ 0.99\\ 0.97\\ 1.00\\ 0.98\\ 0.96\\ 0.99\\ 0.95\\ 0.94\\ 0.96\\ 0.93\\ 0.95\\ 0.97\\ 0.94\\ 0.98\\ 0.95\\ 0.92\\ 0.94\\ 0.90\\ 0.92\\ 0.89\\ 0.90\\ 0.87\\ 0.88\\ 0.85\\ 0.86\\};
\addlegendentry{type-1}
\addplot[lB, line width=1.1pt] table[row sep=\\, x expr=-10+0.25*\coordindex, y=y] {y\\ 0.91\\ 0.87\\ 0.92\\ 0.89\\ 0.93\\ 0.90\\ 0.95\\ 0.91\\ 0.90\\ 0.89\\ 0.91\\ 0.88\\ 0.89\\ 0.87\\ 0.88\\ 0.85\\ 0.86\\ 0.83\\ 0.82\\ 0.81\\ 0.83\\ 0.80\\ 0.81\\ 0.79\\ 0.80\\ 0.82\\ 0.80\\ 0.81\\ 0.83\\ 0.81\\ 0.82\\ 0.80\\ 0.82\\ 0.81\\ 0.83\\ 0.81\\ 0.82\\ 0.84\\ 0.82\\ 0.85\\ 0.83\\ 0.86\\ 0.85\\ 0.83\\ 0.84\\ 0.82\\ 0.85\\ 0.83\\ 0.84\\ 0.86\\ 0.83\\ 0.85\\ 0.84\\ 0.86\\ 0.85\\ 0.84\\ 0.87\\ 0.85\\ 0.86\\ 0.88\\ 0.86\\ 0.89\\ 0.87\\ 0.90\\ 0.88\\ 0.91\\ 0.89\\ 0.92\\ 0.90\\ 0.94\\ 0.91\\ 0.93\\ 0.89\\ 0.92\\ 0.90\\ 0.88\\ 0.91\\ 0.93\\ 0.90\\ 0.94\\ 0.955\\};
\addlegendentry{type-2}
\end{axis}

% ---------------- Panel I ----------------
\node[font=\dejavu\fs{14}] at (640pt,170pt) {I};
\node[font=\dejavu\fs{12}] at (722pt,167pt) {H3K27ac};
\begin{axis}[mpl, at={(657pt,33pt)}, width=131pt, height=124pt, xmin=-10, xmax=10, ymin=0.68, ymax=2.055,
 xtick={-10,0,10}, xticklabels={\rlap{-10.0},center,\llap{10.0Kb}}, ytick={1.0,1.5,2.0},
 yticklabel={\pgfmathprintnumber[fixed,fixed zerofill,precision=1]{\tick}}]
\addplot[lO, line width=1.1pt] table[row sep=\\, x expr=-10+0.25*\coordindex, y=y] {y\\ 0.97\\ 1.02\\ 1.10\\ 1.16\\ 1.24\\ 1.12\\ 1.08\\ 1.18\\ 1.25\\ 1.32\\ 1.27\\ 1.33\\ 1.30\\ 1.36\\ 1.31\\ 1.39\\ 1.35\\ 1.42\\ 1.38\\ 1.47\\ 1.43\\ 1.38\\ 1.44\\ 1.40\\ 1.46\\ 1.42\\ 1.49\\ 1.45\\ 1.54\\ 1.50\\ 1.57\\ 1.55\\ 1.66\\ 1.62\\ 1.70\\ 1.65\\ 1.72\\ 1.69\\ 1.80\\ 1.78\\ 2.00\\ 1.84\\ 1.77\\ 1.72\\ 1.65\\ 1.68\\ 1.58\\ 1.55\\ 1.49\\ 1.45\\ 1.40\\ 1.36\\ 1.33\\ 1.30\\ 1.34\\ 1.27\\ 1.25\\ 1.29\\ 1.22\\ 1.24\\ 1.19\\ 1.23\\ 1.17\\ 1.21\\ 1.18\\ 1.24\\ 1.22\\ 1.27\\ 1.20\\ 1.23\\ 1.17\\ 1.18\\ 1.10\\ 1.04\\ 1.01\\ 0.98\\ 0.93\\ 0.90\\ 0.86\\ 0.84\\ 0.90\\};
\addlegendentry{type-1}
\addplot[lB, line width=1.1pt] table[row sep=\\, x expr=-10+0.25*\coordindex, y=y] {y\\ 1.00\\ 0.96\\ 1.03\\ 0.95\\ 0.92\\ 0.98\\ 0.89\\ 0.96\\ 1.04\\ 1.08\\ 0.97\\ 0.90\\ 0.94\\ 0.86\\ 0.82\\ 0.74\\ 0.88\\ 0.95\\ 0.84\\ 0.97\\ 0.93\\ 0.99\\ 0.91\\ 0.96\\ 0.88\\ 0.94\\ 0.85\\ 0.90\\ 0.97\\ 0.93\\ 1.00\\ 0.91\\ 0.98\\ 0.94\\ 0.89\\ 0.96\\ 0.92\\ 0.99\\ 0.94\\ 0.90\\ 0.93\\ 0.97\\ 0.92\\ 0.99\\ 0.95\\ 0.88\\ 0.96\\ 0.92\\ 0.97\\ 0.90\\ 0.95\\ 0.99\\ 0.93\\ 0.96\\ 0.91\\ 0.97\\ 0.94\\ 1.00\\ 0.96\\ 1.03\\ 1.00\\ 1.06\\ 1.02\\ 1.08\\ 1.04\\ 1.10\\ 1.07\\ 1.12\\ 1.09\\ 1.15\\ 1.12\\ 1.18\\ 1.14\\ 1.25\\ 1.30\\ 1.37\\ 1.33\\ 1.48\\ 1.41\\ 1.36\\ 1.30\\};
\addlegendentry{type-2}
\end{axis}
\end{tikzpicture}
\end{document}
